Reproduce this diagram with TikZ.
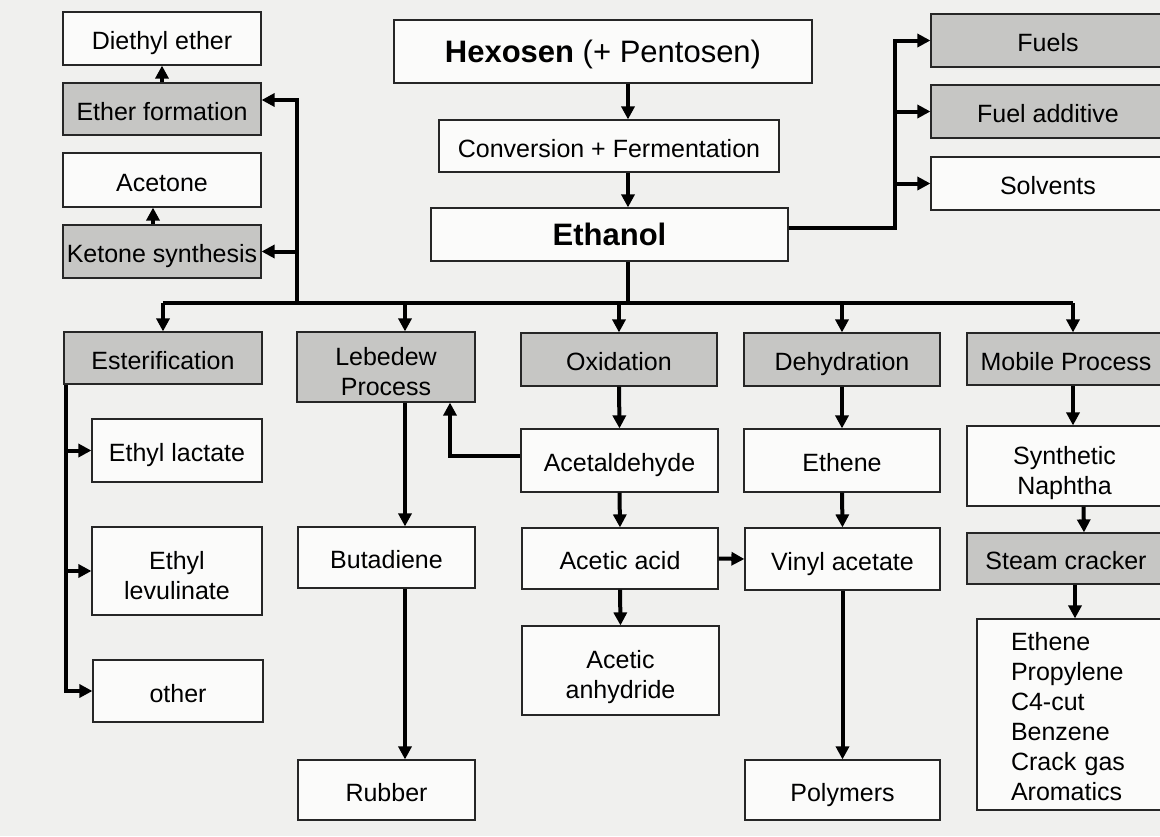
\documentclass[tikz,border=0pt]{standalone}
\usepackage{fontspec}
\setmainfont{Liberation Sans}
\usetikzlibrary{arrows.meta}

\definecolor{paper}{RGB}{240,240,238}
\definecolor{boxgray}{RGB}{198,198,196}
\definecolor{boxwhite}{RGB}{251,251,250}
\newcommand\topstrut{\rule{0pt}{28pt}}
\newcommand\botstrut{\rule[-6pt]{0pt}{6pt}}
\newcommand\highstrut{\rule{0pt}{32pt}}

\begin{document}
\begin{tikzpicture}[x=1pt,y=-1pt,
        box/.style={draw=black!85,line width=1.2pt,fill=boxwhite,align=center,inner sep=0pt,
            font=\fontsize{25}{30}\selectfont,
            execute at begin node=\topstrut,execute at end node=\botstrut},
        grey/.style={box,fill=boxgray},
        big/.style={font=\fontsize{31}{36}\selectfont},
        arr/.style={line width=4pt,-{Triangle[length=13pt,width=13pt]}},
        link/.style={line width=4pt}]

        \fill[paper] (0,0) rectangle (1160,836);
        \useasboundingbox (0,0) rectangle (1160,836);

        % ether and ketone branch
        \node[box,minimum width=198,minimum height=53] (diethyl) at (162,38.5) {Diethyl ether};
        \node[grey,minimum width=198,minimum height=52] (etherf) at (162,109) {Ether formation};
        \node[box,minimum width=198,minimum height=54] (acetone) at (162,180) {Acetone};
        \node[grey,minimum width=198,minimum height=53] (ketone) at (162,251.5) {Ketone synthesis};

        % main line
        \node[box,big,minimum width=418,minimum height=63] (hexosen) at (603,51.5) {\textbf{Hexosen} (+ Pentosen)};
        \node[box,minimum width=340,minimum height=52] (conv) at (609,146) {Conversion + Fermentation};
        \node[box,big,minimum width=357,minimum height=53] (ethanol) at (609.5,234.5) {\textbf{Ethanol}};

        % direct uses
        \node[grey,minimum width=234,minimum height=53] (fuels) at (1048,40.5) {Fuels};
        \node[grey,minimum width=234,minimum height=53] (fueladd) at (1048,111.5) {Fuel additive};
        \node[box,minimum width=234,minimum height=53] (solvents) at (1048,183.5) {Solvents};

        % process row
        \node[grey,minimum width=198,minimum height=52] (ester) at (163,358) {Esterification};
        \node[grey,minimum width=178,minimum height=70] (lebedew) at (386,367) {\highstrut Lebedew\\Process};
        \node[grey,minimum width=196,minimum height=53] (oxid) at (619,359.5) {Oxidation};
        \node[grey,minimum width=196,minimum height=53] (dehyd) at (842,359.5) {Dehydration};
        \node[grey,minimum width=198,minimum height=52] (mobile) at (1066,359) {Mobile Process};

        % esters
        \node[box,minimum width=170,minimum height=63] (lactate) at (177,450.5) {Ethyl lactate};
        \node[box,minimum width=170,minimum height=88] (levul) at (177,571) {\highstrut Ethyl\\levulinate};
        \node[box,minimum width=170,minimum height=62] (other) at (178,691) {other};

        % lebedew column
        \node[box,minimum width=177,minimum height=61] (butadiene) at (386.5,557.5) {Butadiene};
        \node[box,minimum width=177,minimum height=60] (rubber) at (386.5,790) {Rubber};

        % oxidation column
        \node[box,minimum width=197,minimum height=63] (acetald) at (619.5,460.5) {Acetaldehyde};
        \node[box,minimum width=196,minimum height=61] (aceticacid) at (620,558.5) {Acetic acid};
        \node[box,minimum width=197,minimum height=89] (anhyd) at (620.5,670.5) {\highstrut Acetic\\anhydride};

        % dehydration column
        \node[box,minimum width=196,minimum height=63] (ethene) at (842,460.5) {Ethene};
        \node[box,minimum width=195,minimum height=62] (vinyl) at (842.5,559) {Vinyl acetate};
        \node[box,minimum width=195,minimum height=60] (polymers) at (842.5,790) {Polymers};

        % mobile column
        \node[box,minimum width=195,minimum height=80] (naphtha) at (1064.5,466) {\highstrut Synthetic\\Naphtha};
        \node[grey,minimum width=198,minimum height=51] (steam) at (1066,558.5) {Steam cracker};
        \node[box,align=left,text width=120,inner xsep=34pt,minimum height=191] (products) at (1071,714.5)
            {Ethene\\Propylene\\C4-cut\\Benzene\\Crack gas\\Aromatics};

        \coordinate (mid) at (628,0);
        \coordinate (bus) at (0,303);
        \coordinate (lbus) at (297,303);
        \coordinate (rbus) at (895,0);
        \coordinate (lcol) at (405,0);
        \coordinate (mcol) at (1073,0);
        \coordinate (etrunk) at (66,0);

        \draw[arr] (hexosen.south -| mid) -- (conv.north -| mid);
        \draw[arr] (conv.south -| mid) -- (ethanol.north -| mid);
        \draw[link] (ethanol.south -| mid) -- (mid |- bus);
        \draw[link] (ester.north |- bus) -- (mcol |- bus);

        % left side
        \draw[arr] (lbus) |- ([yshift=9pt]etherf.east);
        \draw[arr] (lbus |- ketone.east) -- (ketone.east);
        \draw[arr] (etherf.north) -- (diethyl.south);
        \draw[arr] ([xshift=-9pt]ketone.north) -- ([xshift=-9pt]acetone.south);

        % right side
        \draw[arr] ([yshift=7pt]ethanol.east) -| (rbus |- fuels.west) -- (fuels.west);
        \draw[arr] (rbus |- fueladd.west) -- (fueladd.west);
        \draw[arr] (rbus |- solvents.west) -- (solvents.west);

        % bus to the processes
        \draw[arr] (ester.north |- bus) -- (ester.north);
        \draw[arr] (lcol |- bus) -- (lcol |- lebedew.north);
        \draw[arr] (oxid.north |- bus) -- (oxid.north);
        \draw[arr] (dehyd.north |- bus) -- (dehyd.north);
        \draw[arr] (mcol |- bus) -- (mcol |- mobile.north);

        % esterification
        \draw[arr] (etrunk |- ester.south) |- (other.west);
        \draw[arr] (etrunk |- lactate.west) -- (lactate.west);
        \draw[arr] (etrunk |- levul.west) -- (levul.west);

        % lebedew
        \draw[arr] (lcol |- lebedew.south) -- (lcol |- butadiene.north);
        \draw[arr] (lcol |- butadiene.south) -- (lcol |- rubber.north);
        \draw[arr] ([yshift=5pt]acetald.west) -| ([xshift=64pt]lebedew.south);

        % oxidation
        \draw[arr] (oxid.south) -- (acetald.north);
        \draw[arr] (acetald.south) -- (aceticacid.north);
        \draw[arr] (aceticacid.south) -- (anhyd.north);
        \draw[arr] (aceticacid.east) -- (vinyl.west);

        % dehydration
        \draw[arr] (dehyd.south) -- (ethene.north);
        \draw[arr] (ethene.south) -- (vinyl.north);
        \draw[arr] (vinyl.south) -- (polymers.north);

        % mobile
        \draw[arr] (mcol |- mobile.south) -- (mcol |- naphtha.north);
        \draw[arr] ([xshift=19pt]naphtha.south) -- ([xshift=18pt]steam.north);
        \draw[arr] ([xshift=9pt]steam.south) -- ([xshift=9pt]steam.south |- products.north);

    \end{tikzpicture}
\end{document}
